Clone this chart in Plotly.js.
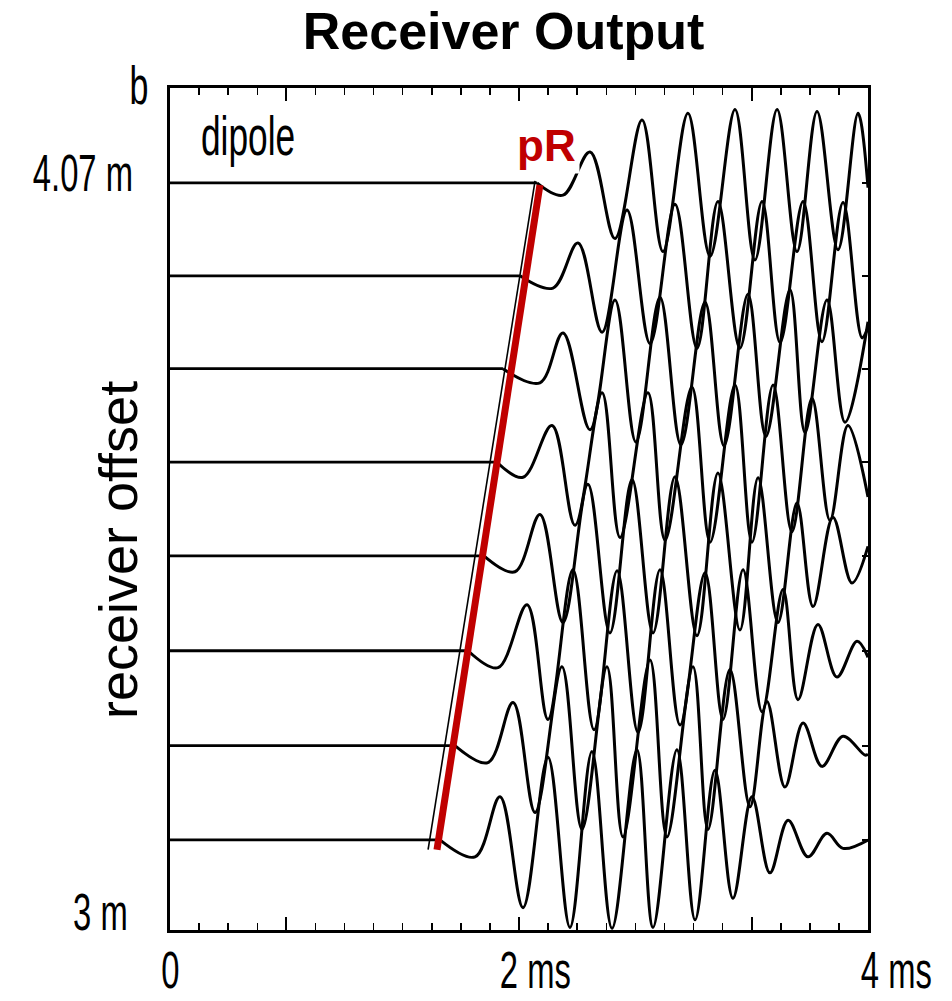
<!DOCTYPE html>
<html>
<head>
<meta charset="utf-8">
<script src="https://cdn.plot.ly/plotly-3.0.1.min.js"></script>
<style>
  html, body { margin: 0; padding: 0; background: #fff; }
  #chart { width: 952px; height: 1001px; }
</style>
</head>
<body>
<div id="chart"></div>
<script>
// Receiver offsets in metres, nearest receiver at the bottom, farthest at the top.
const offsets = [4.070, 3.937, 3.804, 3.670, 3.536, 3.400, 3.264, 3.129];

// Turning points of each recorded trace: time (ms) and amplitude (in trace-spacing units).
// The first two points are the quiet baseline up to the arrival.
const t1 = [0, 2.103, 2.252, 2.407, 2.550, 2.705, 2.825, 2.968, 3.095, 3.238, 3.352, 3.479, 3.593, 3.708, 3.828, 3.943, 4.0];
const a1 = [0, 0, -0.13, 0.33, -0.59, 0.67, -0.73, 0.74, -0.78, 0.78, -0.82, 0.78, -0.73, 0.76, -0.71, 0.74, -0.05];

const t2 = [0, 2.006, 2.195, 2.338, 2.476, 2.619, 2.751, 2.894, 3.020, 3.140, 3.266, 3.393, 3.496, 3.628, 3.736, 3.857, 3.966, 4.0];
const a2 = [0, 0, -0.13, 0.35, -0.60, 0.70, -0.72, 0.76, -0.77, 0.79, -0.77, 0.79, -0.71, 0.79, -0.70, 0.78, -0.66, -0.55];

const t3 = [0, 1.908, 2.120, 2.252, 2.407, 2.550, 2.670, 2.808, 2.928, 3.066, 3.175, 3.312, 3.415, 3.553, 3.639, 3.765, 3.868, 4.0];
const a3 = [0, 0, -0.15, 0.38, -0.65, 0.73, -0.78, 0.76, -0.81, 0.71, -0.82, 0.79, -0.72, 0.84, -0.68, 0.73, -0.57, 0.50];

const t4 = [0, 1.874, 2.023, 2.189, 2.321, 2.476, 2.579, 2.739, 2.837, 2.991, 3.095, 3.238, 3.335, 3.456, 3.564, 3.679, 3.782, 3.885, 4.0];
const a4 = [0, 0, -0.16, 0.39, -0.67, 0.74, -0.80, 0.74, -0.83, 0.80, -0.85, 0.82, -0.85, 0.82, -0.74, 0.68, -0.62, 0.39, -0.37];

const t5 = [0, 1.799, 1.977, 2.120, 2.252, 2.395, 2.521, 2.648, 2.768, 2.894, 3.020, 3.140, 3.266, 3.370, 3.484, 3.593, 3.685, 3.799, 3.908, 4.0];
const a5 = [0, 0, -0.17, 0.44, -0.71, 0.76, -0.82, 0.81, -0.82, 0.84, -0.85, 0.88, -0.79, 0.83, -0.71, 0.56, -0.54, 0.41, -0.29, 0.10];

const t6 = [0, 1.708, 1.880, 2.046, 2.166, 2.309, 2.430, 2.562, 2.682, 2.808, 2.923, 3.066, 3.169, 3.284, 3.393, 3.513, 3.599, 3.713, 3.822, 3.937, 4.0];
const a6 = [0, 0, -0.18, 0.49, -0.73, 0.86, -0.84, 0.85, -0.87, 0.86, -0.79, 0.83, -0.73, 0.86, -0.65, 0.65, -0.52, 0.28, -0.28, 0.10, -0.07];

const t7 = [0, 1.633, 1.822, 1.966, 2.092, 2.246, 2.361, 2.504, 2.596, 2.751, 2.848, 2.997, 3.083, 3.209, 3.324, 3.421, 3.524, 3.628, 3.736, 3.857, 3.983, 4.0];
const a7 = [0, 0, -0.18, 0.46, -0.71, 0.84, -0.89, 0.84, -0.97, 0.91, -0.97, 0.84, -0.89, 0.81, -0.65, 0.47, -0.44, 0.24, -0.22, 0.10, -0.10, -0.09];

const t8 = [0, 1.547, 1.748, 1.891, 2.023, 2.166, 2.292, 2.418, 2.533, 2.676, 2.768, 2.905, 3.009, 3.123, 3.226, 3.335, 3.438, 3.542, 3.656, 3.765, 3.857, 4.0];
const a8 = [0, 0, -0.18, 0.46, -0.72, 0.88, -0.93, 0.94, -0.94, 0.96, -0.93, 0.96, -0.85, 0.74, -0.62, 0.46, -0.35, 0.21, -0.18, 0.07, -0.09, 0.0];

// pR arrival moveout (picked line and the thin onset line beside it)
const pRTime = [2.120, 1.530];
const pROffset = [4.067, 3.115];
const onsetTime = [2.092, 1.479];
const onsetOffset = [4.073, 3.115];

const axisLabels = ['0', '2 ms', '4 ms'];
const offsetLabels = ['4.07 m', '3 m'];

// one trace-spacing unit of amplitude expressed in metres of offset
const GAIN = 0.1347;

const times = [t1, t2, t3, t4, t5, t6, t7, t8];
const amps = [a1, a2, a3, a4, a5, a6, a7, a8];

const SANS = 'Liberation Sans, Arial, sans-serif';
// horizontal squeeze for the tall, narrow lettering of the figure panel
const NARROW = 0.63;

const data = [];
times.forEach((tt, i) => {
  const yy = amps[i].map(a => offsets[i] + a * GAIN);
  // quiet baseline before the arrival
  data.push({
    type: 'scatter', mode: 'lines',
    x: tt.slice(0, 2), y: yy.slice(0, 2),
    line: { color: '#000', width: 2.8 },
    hoverinfo: 'skip', showlegend: false
  });
  // wavetrain from the arrival onwards
  data.push({
    type: 'scatter', mode: 'lines',
    x: tt.slice(1), y: yy.slice(1),
    line: { color: '#000', width: 3, shape: 'spline', smoothing: 1 },
    hoverinfo: 'skip', showlegend: false
  });
});

data.push({
  type: 'scatter', mode: 'lines',
  x: onsetTime, y: onsetOffset,
  line: { color: '#000', width: 1.6 },
  hoverinfo: 'skip', showlegend: false
});
data.push({
  type: 'scatter', mode: 'lines',
  x: pRTime, y: pROffset,
  line: { color: '#c00000', width: 7 },
  hoverinfo: 'skip', showlegend: false
});

const annotations = [
  { text: 'b', xref: 'paper', yref: 'paper', x: 0, y: 1.0036, xshift: -31,
    xanchor: 'center', yanchor: 'middle', showarrow: false, name: 'narrow',
    font: { family: SANS, size: 54, color: '#000' } },
  { text: 'dipole', xref: 'paper', yref: 'paper', x: 0, y: 0.943, xshift: 29,
    xanchor: 'left', yanchor: 'middle', showarrow: false, name: 'narrow',
    font: { family: SANS, size: 56, color: '#000' } },
  { text: offsetLabels[0], xref: 'paper', yref: 'y', x: 0, y: offsets[0], xshift: -35, yshift: 10,
    xanchor: 'right', yanchor: 'middle', showarrow: false, name: 'narrow',
    font: { family: SANS, size: 52, color: '#000' } },
  { text: offsetLabels[1], xref: 'paper', yref: 'y', x: 0, y: 3, xshift: -40, yshift: 18,
    xanchor: 'right', yanchor: 'middle', showarrow: false, name: 'narrow',
    font: { family: SANS, size: 52, color: '#000' } },
  { text: axisLabels[0], xref: 'x', yref: 'paper', x: 0, y: -0.0475,
    xanchor: 'center', yanchor: 'middle', showarrow: false, name: 'narrow',
    font: { family: SANS, size: 52, color: '#000' } },
  { text: axisLabels[1], xref: 'x', yref: 'paper', x: 2, y: -0.0475, xshift: 16,
    xanchor: 'center', yanchor: 'middle', showarrow: false, name: 'narrow',
    font: { family: SANS, size: 52, color: '#000' } },
  { text: axisLabels[2], xref: 'x', yref: 'paper', x: 4, y: -0.0475, xshift: 28,
    xanchor: 'center', yanchor: 'middle', showarrow: false, name: 'narrow',
    font: { family: SANS, size: 52, color: '#000' } },
  { text: 'receiver offset', xref: 'paper', yref: 'paper', x: 0, y: 0.4513, xshift: -52,
    xanchor: 'center', yanchor: 'middle', textangle: -90, showarrow: false,
    font: { family: SANS, size: 54, color: '#000' } },
  { text: '<b>pR</b>', xref: 'x', yref: 'y', x: 2.160, y: 4.123,
    xanchor: 'center', yanchor: 'middle', showarrow: false,
    bgcolor: '#fff', borderpad: 3,
    font: { family: SANS, size: 44, color: '#c00000' } }
];

const axisStyle = {
  showline: true, linecolor: '#000', linewidth: 3, mirror: 'ticks',
  showgrid: false, zeroline: false, showticklabels: false,
  ticks: 'inside', tickcolor: '#000'
};

const layout = {
  width: 952, height: 1001,
  margin: { l: 170, r: 84, t: 88, b: 71 },
  paper_bgcolor: '#fff', plot_bgcolor: '#fff',
  showlegend: false,
  title: {
    text: '<b>Receiver Output</b>',
    font: { family: SANS, size: 52, color: '#000' },
    xref: 'container', yref: 'container',
    x: 0.529, xanchor: 'center', y: 0.969, yanchor: 'middle'
  },
  xaxis: Object.assign({}, axisStyle, {
    range: [0, 4],
    tickmode: 'array', tickvals: [2 / 3, 2, 10 / 3], ticklen: 13, tickwidth: 2,
    minor: { ticks: 'inside', dtick: 1 / 6, tick0: 0, ticklen: 7, tickwidth: 1.5, tickcolor: '#000', showgrid: false }
  }),
  yaxis: Object.assign({}, axisStyle, {
    range: [3, 4.206],
    tickmode: 'array', tickvals: offsets, ticklen: 6, tickwidth: 2
  }),
  annotations: annotations
};

Plotly.newPlot('chart', data, layout, { displayModeBar: false, staticPlot: true }).then(gd => {
  // squeeze the panel lettering horizontally about its anchored edge
  gd.querySelectorAll('g.annotation').forEach(g => {
    const idx = +g.getAttribute('data-index');
    const ann = layout.annotations[idx];
    if (!ann || ann.name !== 'narrow') return;
    const txt = g.querySelector('text.annotation-text');
    if (!txt) return;
    const bb = txt.getBBox();
    let ax = bb.x + bb.width / 2;
    if (ann.xanchor === 'left') ax = bb.x;
    if (ann.xanchor === 'right') ax = bb.x + bb.width;
    const prev = txt.getAttribute('transform') || '';
    txt.setAttribute('transform',
      prev + ' translate(' + ax + ',0) scale(' + NARROW + ',1) translate(' + (-ax) + ',0)');
  });
});
</script>
</body>
</html>
